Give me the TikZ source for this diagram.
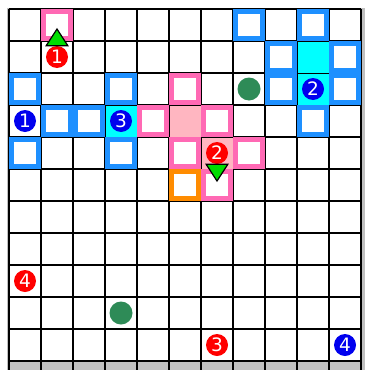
\documentclass[tikz,border=0pt]{standalone}
\usepackage{fontspec}
\newfontfamily\digitfont{DejaVu Sans}
\definecolor{gridgray}{HTML}{C0C0C0}
\definecolor{bblue}{HTML}{1E90FF}
\definecolor{ccyan}{HTML}{00FFFF}
\definecolor{lpink}{HTML}{FFB6C1}
\definecolor{hpink}{HTML}{FF69B4}
\definecolor{orng}{HTML}{FF8C00}
\definecolor{dgreen}{HTML}{2E8B57}
\definecolor{lgreen}{HTML}{00DD00}
\definecolor{cblue}{HTML}{0000EE}
\definecolor{cred}{HTML}{FF0000}
\tikzset{
  gridline/.style={black, line width=1.5pt},
  filledcell/.style={draw=black, line width=0.8pt},
  agent/.style={circle, inner sep=0pt, minimum size=22pt, text=white,
    font=\digitfont\fontsize{18.5}{18.5}\selectfont},
  agentred/.style={agent, fill=cred},
  agentblue/.style={agent, fill=cblue},
  goaldot/.style={circle, inner sep=0pt, minimum size=23pt, fill=dgreen},
  arrowtri/.style={fill=lgreen, draw=black, line width=1.2pt, line join=miter},
}
\newcommand\framecell[3]{%
  \fill[#1] (#2,#3) rectangle ++(1,1);
  \fill[white] (#2+0.16,#3+0.16) rectangle (#2+0.84,#3+0.84);}
\begin{document}
\begin{tikzpicture}[x=1pt,y=-1pt]
\useasboundingbox (0,0) rectangle (374,372);
\fill[white] (0,0) rectangle (374,372);
\fill[gridgray] (7,8) rectangle (365,370);
\fill[white] (9,9) rectangle (361,361);
\begin{scope}[shift={(9,9)}, x=32pt, y=-32pt]
  % grid
  \foreach \i in {0,...,11} {
    \draw[gridline] (\i,0) -- (\i,11.28);
    \draw[gridline] (0,\i) -- (11,\i);
  }
  % filled cells
  \filldraw[filledcell, fill=ccyan] (9,1) rectangle ++(1,1);
  \filldraw[filledcell, fill=ccyan] (9,2) rectangle ++(1,1);
  \filldraw[filledcell, fill=ccyan] (3,3) rectangle ++(1,1);
  \filldraw[filledcell, fill=lpink] (5,3) rectangle ++(1,1);
  \filldraw[filledcell, fill=lpink] (6,4) rectangle ++(1,1);
  % blue framed cells
  \framecell{bblue}{7}{0}
  \framecell{bblue}{9}{0}
  \framecell{bblue}{8}{1}
  \framecell{bblue}{10}{1}
  \framecell{bblue}{0}{2}
  \framecell{bblue}{3}{2}
  \framecell{bblue}{8}{2}
  \framecell{bblue}{10}{2}
  \framecell{bblue}{1}{3}
  \framecell{bblue}{2}{3}
  \framecell{bblue}{9}{3}
  \framecell{bblue}{0}{4}
  \framecell{bblue}{3}{4}
  % pink framed cells
  \framecell{hpink}{1}{0}
  \framecell{hpink}{5}{2}
  \framecell{hpink}{4}{3}
  \framecell{hpink}{6}{3}
  \framecell{hpink}{5}{4}
  \framecell{hpink}{7}{4}
  \framecell{hpink}{6}{5}
  % orange framed cell
  \framecell{orng}{5}{5}
  % goals
  \node[goaldot] (goalA) at (7.5,2.5) {};
  \node[goaldot] (goalB) at (3.5,9.5) {};
  % agents
  \node[agentred] (red1) at (1.5,1.5) {1};
  \node[agentred] (red2) at (6.5,4.5) {2};
  \node[agentred] (red3) at (6.5,10.5) {3};
  \node[agentred] (red4) at (0.5,8.5) {4};
  \node[agentblue] (blue1) at (0.5,3.5) {1};
  \node[agentblue] (blue2) at (9.5,2.5) {2};
  \node[agentblue] (blue3) at (3.5,3.5) {3};
  \node[agentblue] (blue4) at (10.5,10.5) {4};
  % heading triangles
  \draw[arrowtri] (1.5,0.625) -- (1.16,1.15) -- (1.84,1.15) -- cycle;
  \draw[arrowtri] (6.16,4.85) -- (6.84,4.85) -- (6.5,5.375) -- cycle;
\end{scope}
\end{tikzpicture}
\end{document}
